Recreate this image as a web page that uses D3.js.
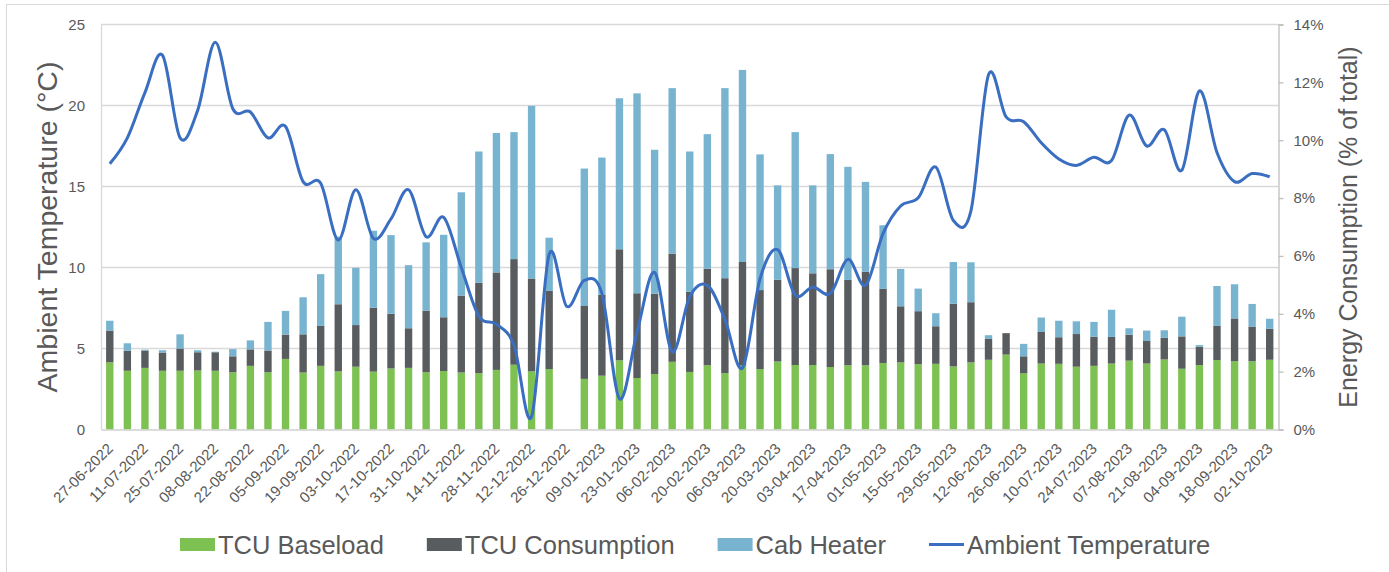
<!DOCTYPE html>
<html lang="en">

<head>
    <meta charset="UTF-8">
    <title>TCU energy vs ambient temperature</title>
    <style>
        html,
        body {
            padding: 0;
            margin: 0;
            background: #fff;
            overflow: hidden;
        }

        text {
            font-family: Arial, "Liberation Sans", sans-serif;
            fill: #595959;
        }
    </style>
</head>

<body>

    <script src="https://cdn.jsdelivr.net/npm/d3@7"></script>
    <script>

        const weeks = [
            '27-06-2022', '04-07-2022', '11-07-2022', '18-07-2022', '25-07-2022', '01-08-2022', '08-08-2022',
            '15-08-2022', '22-08-2022', '29-08-2022', '05-09-2022', '12-09-2022', '19-09-2022', '26-09-2022',
            '03-10-2022', '10-10-2022', '17-10-2022', '24-10-2022', '31-10-2022', '07-11-2022', '14-11-2022',
            '21-11-2022', '28-11-2022', '05-12-2022', '12-12-2022', '19-12-2022', '26-12-2022', '02-01-2023',
            '09-01-2023', '16-01-2023', '23-01-2023', '30-01-2023', '06-02-2023', '13-02-2023', '20-02-2023',
            '27-02-2023', '06-03-2023', '13-03-2023', '20-03-2023', '27-03-2023', '03-04-2023', '10-04-2023',
            '17-04-2023', '24-04-2023', '01-05-2023', '08-05-2023', '15-05-2023', '22-05-2023', '29-05-2023',
            '05-06-2023', '12-06-2023', '19-06-2023', '26-06-2023', '03-07-2023', '10-07-2023', '17-07-2023',
            '24-07-2023', '31-07-2023', '07-08-2023', '14-08-2023', '21-08-2023', '28-08-2023', '04-09-2023',
            '11-09-2023', '18-09-2023', '25-09-2023', '02-10-2023'
        ]

        // energy shares, % of total
        const tcuBaseload = [
            2.32, 2.03, 2.13, 2.03, 2.03, 2.04, 2.03, 1.98, 2.20, 1.98, 2.44, 1.97, 2.20, 2.01,
            2.17, 2.00, 2.11, 2.13, 1.98, 2.02, 1.97, 1.95, 2.06, 2.24, 2.01, 2.09, 0, 1.75,
            1.86, 2.39, 1.78, 1.92, 2.34, 1.99, 2.22, 1.95, 2.21, 2.09, 2.35, 2.23, 2.23, 2.16,
            2.22, 2.22, 2.30, 2.32, 2.26, 2.27, 2.18, 2.32, 2.41, 2.59, 1.94, 2.28, 2.27, 2.17,
            2.20, 2.28, 2.38, 2.28, 2.42, 2.10, 2.23, 2.40, 2.36, 2.36, 2.41
        ]
        const tcuConsumption = [
            1.10, 0.69, 0.60, 0.63, 0.77, 0.63, 0.64, 0.55, 0.57, 0.75, 0.84, 1.32, 1.38, 2.32,
            1.44, 2.21, 1.89, 1.37, 2.13, 1.86, 2.66, 3.12, 3.37, 3.65, 3.21, 2.70, 0, 2.52,
            2.80, 3.84, 2.93, 2.77, 3.74, 2.77, 3.34, 3.28, 3.58, 2.73, 2.83, 3.35, 3.17, 3.38,
            2.95, 3.23, 2.56, 1.94, 1.83, 1.30, 2.17, 2.08, 0.72, 0.74, 0.59, 1.09, 0.92, 1.13,
            1.01, 0.92, 0.90, 0.78, 0.75, 1.12, 0.63, 1.18, 1.48, 1.20, 1.07
        ]
        const cabHeater = [
            0.34, 0.26, 0.03, 0.08, 0.49, 0.07, 0.02, 0.25, 0.31, 0.99, 0.82, 1.28, 1.79, 2.34,
            1.98, 2.66, 2.72, 2.18, 2.36, 2.85, 3.57, 4.54, 4.82, 4.39, 5.97, 1.84, 0, 4.75,
            4.74, 5.22, 6.91, 4.98, 5.72, 4.85, 4.65, 6.57, 6.64, 4.69, 3.26, 4.70, 3.04, 3.98,
            3.91, 3.11, 2.20, 1.29, 0.78, 0.45, 1.44, 1.38, 0.13, 0, 0.43, 0.50, 0.57, 0.44,
            0.51, 0.94, 0.22, 0.36, 0.26, 0.68, 0.06, 1.38, 1.18, 0.78, 0.35
        ]
        // weekly mean, °C
        const ambientTemp = [
            16.4, 18.0, 20.8, 23.1, 18.0, 19.7, 23.9, 19.8, 19.6, 18.0, 18.7, 15.3, 15.2, 11.7,
            14.8, 11.8, 13.0, 14.8, 11.9, 13.1, 10.0, 7.0, 6.5, 5.2, 0.8, 10.8, 7.6, 9.2,
            8.4, 1.9, 6.0, 9.7, 4.8, 8.2, 8.9, 6.8, 3.8, 9.3, 11.1, 8.3, 8.8, 8.4,
            10.5, 8.9, 12.1, 13.8, 14.3, 16.2, 12.9, 13.5, 21.9, 19.3, 19.0, 17.7, 16.7, 16.3,
            16.8, 16.6, 19.4, 17.5, 18.5, 16.0, 20.9, 17.1, 15.3, 15.8, 15.6
        ]

        const tempTicks = [0, 5, 10, 15, 20, 25]
        const shareTicks = [0, 2, 4, 6, 8, 10, 12, 14]

        const seriesNames = ['TCU Baseload', 'TCU Consumption', 'Cab Heater']
        const colors = ['#7cc152', '#595c5e', '#78b4d0']
        const lineColor = '#3a6ec1'

        const width = 1389
        const height = 572

        const margin = { top: 24.5, left: 101, right: 110.5, bottom: 142.5 }
        const w = width - margin.left - margin.right
        const h = height - margin.top - margin.bottom

        const svg = d3.select('body')
            .append('svg')
            .attr('width', width)
            .attr('height', height)

        // chart frame
        svg.append('rect')
            .attr('x', 6.5).attr('y', 4.5)
            .attr('width', width).attr('height', height)
            .attr('fill', 'none')
            .attr('stroke', '#d9d9d9')

        const x = d3.scaleBand()
            .domain(weeks)
            .range([0, w])
            .paddingInner(0.58)
            .paddingOuter(0.29)

        const yTemp = d3.scaleLinear().domain([0, 25]).range([h, 0])
        const yShare = d3.scaleLinear().domain([0, 14]).range([h, 0])

        const g = svg.append('g')
            .attr('transform', `translate(${margin.left}, ${margin.top})`)

        // gridlines
        g.selectAll('.grid')
            .data(tempTicks.slice(1))
            .enter()
            .append('line')
            .attr('class', 'grid')
            .attr('x1', 0).attr('x2', w)
            .attr('y1', d => yTemp(d)).attr('y2', d => yTemp(d))
            .attr('stroke', '#d9d9d9')
            .attr('stroke-width', 1.3)

        // left axis
        const leftAxis = g.append('g')
            .call(d3.axisLeft(yTemp).tickValues(tempTicks).tickSize(0).tickPadding(16))
        leftAxis.select('.domain').attr('stroke', '#d9d9d9').attr('stroke-width', 1.3)
        leftAxis.selectAll('text').attr('font-size', 15).style('font-family', null)

        // right axis
        const rightAxis = g.append('g')
            .attr('transform', `translate(${w}, 0)`)
            .call(d3.axisRight(yShare).tickValues(shareTicks).tickSize(5).tickSizeOuter(5)
                .tickPadding(10).tickFormat(d => d + '%'))
        rightAxis.select('.domain').attr('stroke', '#bfbfbf').attr('stroke-width', 1.3)
        rightAxis.selectAll('line').attr('stroke', '#bfbfbf').attr('stroke-width', 1.3)
        rightAxis.selectAll('text').attr('font-size', 15).style('font-family', null)

        // stacked bars
        const rows = weeks.map((wk, i) => ({
            week: wk,
            base: tcuBaseload[i],
            cons: tcuConsumption[i],
            heat: cabHeater[i]
        }))
        const stacked = d3.stack().keys(['base', 'cons', 'heat'])(rows)

        g.selectAll('.layer')
            .data(stacked)
            .enter()
            .append('g')
            .attr('class', 'layer')
            .attr('fill', (d, i) => colors[i])
            .selectAll('rect')
            .data(d => d)
            .enter()
            .append('rect')
            .attr('x', d => x(d.data.week))
            .attr('y', d => yShare(d[1]))
            .attr('width', x.bandwidth())
            .attr('height', d => yShare(d[0]) - yShare(d[1]))

        // bottom axis
        const bottomAxis = g.append('g')
            .attr('transform', `translate(0, ${h})`)
            .call(d3.axisBottom(x).tickValues(weeks.filter((d, i) => i % 2 === 0)).tickSize(0).tickSizeOuter(0))
        bottomAxis.select('.domain').attr('stroke', '#d0d0d0').attr('stroke-width', 1.3)
        bottomAxis.selectAll('text')
            .attr('font-size', 15)
            .style('font-family', null)
            .attr('text-anchor', 'end')
            .attr('x', 0).attr('y', 0).attr('dy', 0)
            .attr('transform', 'translate(4, 20) rotate(-45)')

        // temperature line
        const line = d3.line()
            .x((d, i) => x(weeks[i]) + x.bandwidth() / 2)
            .y(d => yTemp(d))
            .curve(d3.curveCardinal.tension(0))

        g.append('path')
            .datum(ambientTemp)
            .attr('fill', 'none')
            .attr('stroke', lineColor)
            .attr('stroke-width', 3)
            .attr('stroke-linejoin', 'round')
            .attr('d', line)

        // axis titles
        svg.append('text')
            .attr('transform', `translate(57, ${margin.top + h / 2}) rotate(-90)`)
            .attr('text-anchor', 'middle')
            .attr('font-size', 28.5)
            .text('Ambient Temperature (°C)')

        svg.append('text')
            .attr('transform', `translate(1357, ${margin.top + h / 2}) rotate(-90)`)
            .attr('text-anchor', 'middle')
            .attr('font-size', 25)
            .text('Energy Consumption (% of total)')

        // legend
        const legend = svg.append('g')
            .attr('transform', 'translate(180, 544.5)')
        let lx = 0
        const items = seriesNames.map((name, i) => ({ name: name, color: colors[i], kind: 'box' }))
            .concat([{ name: 'Ambient Temperature', color: lineColor, kind: 'line' }])
        items.forEach(item => {
            if (item.kind === 'box') {
                legend.append('rect')
                    .attr('x', lx).attr('y', -6.5)
                    .attr('width', 35).attr('height', 13)
                    .attr('fill', item.color)
            } else {
                legend.append('line')
                    .attr('x1', lx).attr('x2', lx + 35)
                    .attr('y1', 0).attr('y2', 0)
                    .attr('stroke', item.color)
                    .attr('stroke-width', 3)
            }
            const t = legend.append('text')
                .attr('x', lx + 38)
                .attr('y', 9)
                .attr('font-size', 25.5)
                .text(item.name)
            lx += 38 + t.node().getComputedTextLength() + 43
        })

    </script>
</body>

</html>
